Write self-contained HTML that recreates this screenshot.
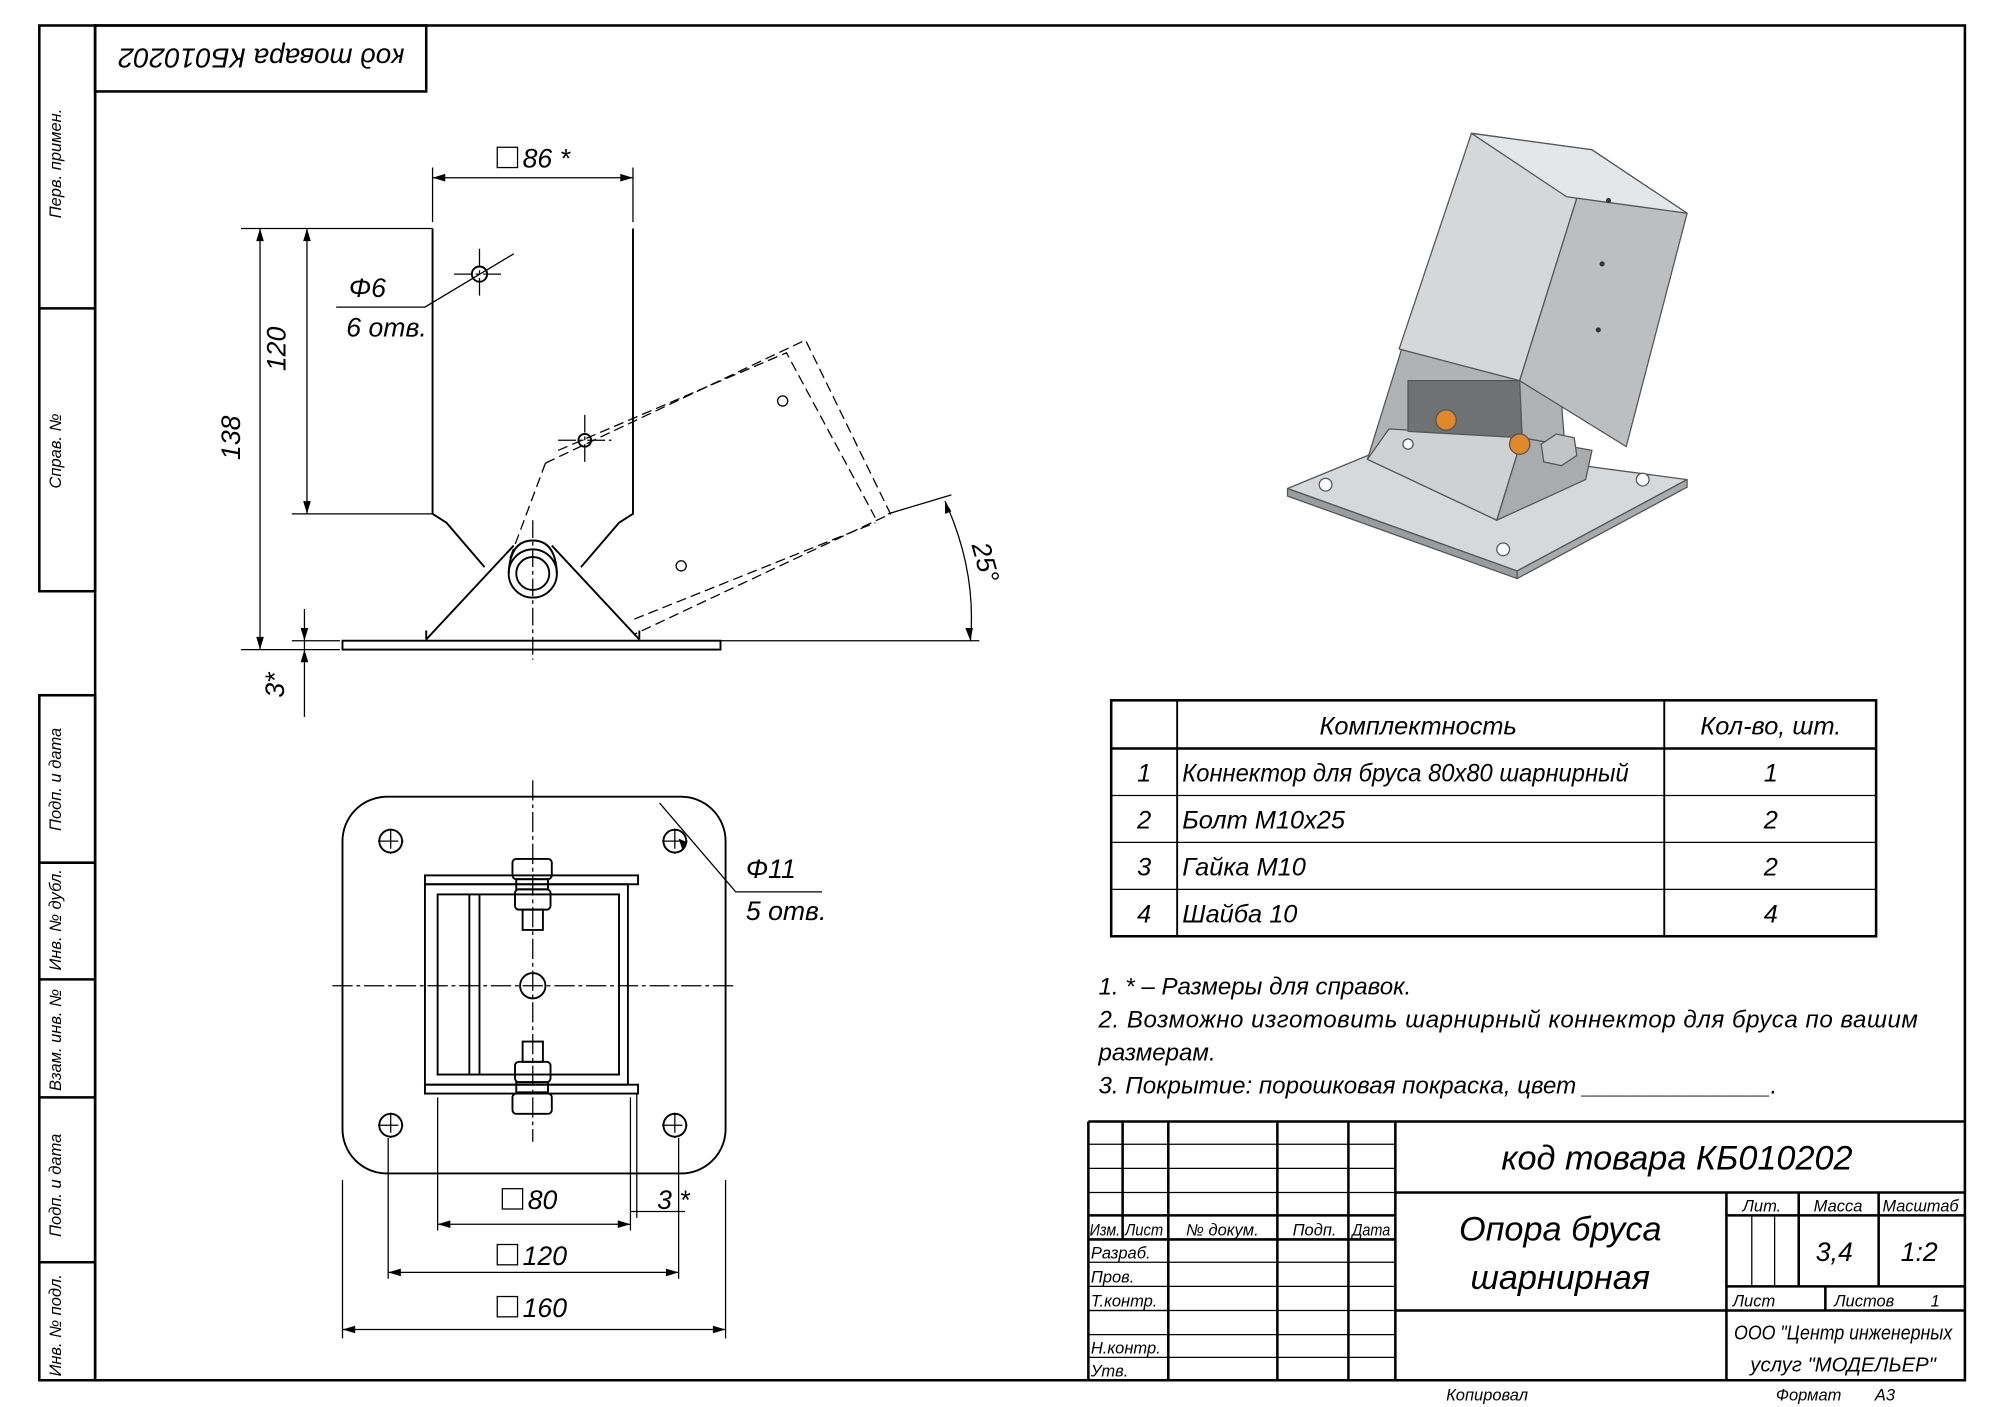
<!DOCTYPE html>
<html><head><meta charset="utf-8"><style>
html,body{margin:0;padding:0;background:#fff}
svg{display:block}
text{font-family:"Liberation Sans","DejaVu Sans",sans-serif;font-style:italic;fill:#000}
</style></head><body>
<svg width="1989" height="1407" viewBox="0 0 1568 1109" xmlns="http://www.w3.org/2000/svg">
<g fill="none" stroke="#000">
<rect x="75" y="20" width="1474" height="1068" stroke-width="2"/>
<rect x="31" y="20" width="44" height="446" stroke-width="2"/>
<line x1="31" y1="243" x2="75" y2="243" stroke-width="2"/>
<rect x="31" y="548" width="44" height="540" stroke-width="2"/>
<line x1="31" y1="680" x2="75" y2="680" stroke-width="2"/>
<line x1="31" y1="772" x2="75" y2="772" stroke-width="2"/>
<line x1="31" y1="865" x2="75" y2="865" stroke-width="2"/>
<line x1="31" y1="995" x2="75" y2="995" stroke-width="2"/>
<rect x="75" y="20" width="261" height="52" stroke-width="2"/>
</g>
<g font-size="13">
<text transform="translate(48,172) rotate(-90)">Перв. примен.</text>
<text transform="translate(48,385) rotate(-90)">Справ. №</text>
<text transform="translate(48,655) rotate(-90)">Подп. и дата</text>
<text transform="translate(48,765) rotate(-90)">Инв. № дубл.</text>
<text transform="translate(48,860) rotate(-90)">Взам. инв. №</text>
<text transform="translate(48,975) rotate(-90)">Подп. и дата</text>
<text transform="translate(48,1085) rotate(-90)">Инв. № подл.</text>
</g>
<text transform="translate(206,46) rotate(180)" font-size="22" text-anchor="middle" dy="8">код товара КБ010202</text>

<g fill="none" stroke="#000" stroke-width="1.5">
<path d="M341,180 V405 L352,412 L382,447"/>
<path d="M499,180 V405 L488,412 L458,447"/>
<path d="M336,504 L405,430 M504,504 L435,430"/>
<path d="M336,504 V497 M504,504 V497"/>
<rect x="270" y="505" width="298" height="7"/>
<circle cx="420" cy="452" r="19"/>
<circle cx="420" cy="452" r="13"/>
<path d="M401,452 Q402,426 420,426 Q438,426 439,452"/>
<circle cx="378" cy="216" r="6"/>
<circle cx="461" cy="347" r="5"/>
</g>
<g fill="none" stroke="#000" stroke-width="1" stroke-dasharray="8,4">
<path d="M430,365 L635,268 L702,405 L500,500"/>
<path d="M430,365 L402,440 M440,355 L620,278 L690,408"/>
<path d="M500,488 L690,412"/>
</g>
<g fill="none" stroke="#000" stroke-width="1">
<circle cx="617" cy="316" r="4"/><circle cx="537" cy="446" r="4"/>
<path d="M420,410 V520 M358,216 H398 M378,196 V236 M440,347 H482 M461,327 V367" stroke-dasharray="14,3,3,3"/>
<path d="M341,175 V132 M499,175 V132 M341,140 H499"/>
<path d="M190,180 H341 M190,512 H268 M205,180 V512"/>
<path d="M230,405 H341 M242,180 V405"/>
<path d="M240,480 V565 M230,505 H268"/>
<path d="M700,405 L750,390 M568,505 H772"/>
<path d="M745,395 Q770,450 765,505"/>
<path d="M265,242 H335 L405,200"/>
</g>
<g fill="#000">
<path d="M341,140 l10,-3 v6z M499,140 l-10,-3 v6z"/>
<path d="M205,180 l-3,10 h6z M205,512 l-3,-10 h6z"/>
<path d="M242,180 l-3,10 h6z M242,405 l-3,-10 h6z"/>
<path d="M240,505 l-3,-10 h6z M240,512 l-3,10 h6z"/>
<path d="M745,395 l0,10 l5,-2z M765,505 l-4,-10 h6z"/>
</g>
<rect x="392" y="116" width="16" height="16" fill="none" stroke="#000"/>
<g font-size="21">
<text x="412" y="132">86 *</text>
<text transform="translate(233,275) rotate(-90)" text-anchor="middle" dy="-8">120</text>
<text transform="translate(197,345) rotate(-90)" text-anchor="middle" dy="-8">138</text>
<text transform="translate(232,540) rotate(-90)" text-anchor="middle" dy="-8">3*</text>
<text transform="translate(770,445) rotate(75)" text-anchor="middle">25°</text>
<text x="275" y="234">Φ6</text>
<text x="273" y="265">6 отв.</text>
</g>

<g fill="none" stroke="#000" stroke-width="1.5">
<rect x="270" y="628" width="302" height="297" rx="35"/>
<circle cx="308" cy="663" r="9"/><circle cx="532" cy="663" r="9"/>
<circle cx="308" cy="887" r="9"/><circle cx="532" cy="887" r="9"/>
<circle cx="420" cy="777" r="10"/>
<rect x="335" y="690" width="168" height="7"/>
<rect x="335" y="855" width="168" height="7"/>
<rect x="335" y="697" width="160" height="158"/>
<rect x="345" y="705" width="143" height="142"/>
<path d="M370,705 V847 M378,705 V847"/>
<rect x="404" y="677" width="31" height="16" rx="3"/>
<rect x="407" y="693" width="25" height="8"/>
<rect x="406" y="701" width="28" height="16" rx="3"/>
<rect x="412" y="717" width="16" height="16"/>
<rect x="404" y="862" width="31" height="16" rx="3"/>
<rect x="407" y="853" width="25" height="8"/>
<rect x="406" y="837" width="28" height="16" rx="3"/>
<rect x="412" y="821" width="16" height="16"/>
</g>
<g fill="none" stroke="#000" stroke-width="1">
<path d="M420,615 V900 M262,777 H580 M298,663 H318 M308,653 V673 M522,663 H542 M532,653 V673 M298,887 H318 M308,877 V897 M522,887 H542 M532,877 V897" stroke-dasharray="16,3,3,3"/>
<path d="M345,865 V970 M497,865 V970 M345,965 H497"/>
<path d="M306,897 V1008 M535,897 V1008 M306,1003 H535"/>
<path d="M270,930 V1055 M572,930 V1055 M270,1048 H572"/>
<path d="M502,862 V960 M497,955 H540"/>
<path d="M520,633 L580,703 H648"/>
</g>
<g fill="#000">
<path d="M345,965 l10,-3 v6z M497,965 l-10,-3 v6z"/>
<path d="M306,1003 l10,-3 v6z M535,1003 l-10,-3 v6z"/>
<path d="M270,1048 l10,-3 v6z M572,1048 l-10,-3 v6z"/>
<path d="M538,670 l-3,-9 l7,3z"/>
</g>
<g font-size="21">
<rect x="396" y="937" width="16" height="16" fill="none" stroke="#000"/><text x="416" y="953">80</text>
<rect x="392" y="981" width="16" height="16" fill="none" stroke="#000"/><text x="412" y="997">120</text>
<rect x="392" y="1022" width="16" height="16" fill="none" stroke="#000"/><text x="412" y="1038">160</text>
<text x="518" y="953">3 *</text>
<text x="588" y="692">Φ11</text>
<text x="588" y="725">5 отв.</text>
</g>

<g stroke="#555" stroke-width="1" stroke-linejoin="round">
<path d="M1015,385 L1105,348 L1330,378 L1196,450 Z" fill="#d6d8da"/>
<path d="M1015,385 L1196,450 L1196,456 L1015,391 Z" fill="#9a9c9e"/>
<path d="M1196,450 L1330,378 L1330,384 L1196,456Z" fill="#a8aaac"/>
<path d="M1078,362 L1105,275 L1230,305 L1236,382 L1180,410 Z" fill="#b0b2b4"/>
<path d="M1078,362 L1095,338 L1200,345 L1180,410Z" fill="#cfd1d3"/>
<path d="M1180,410 L1200,345 L1255,355 L1250,378 Z" fill="#a9abad"/>
<path d="M1103,275 L1160,105 L1255,118 L1198,300 Z" fill="#d5d7d9"/>
<path d="M1255,118 L1330,168 L1282,352 L1198,300 Z" fill="#bcbec0"/>
<path d="M1160,105 L1255,118 L1330,168 L1235,155Z" fill="#e5e6e7"/>
<path d="M1110,300 L1198,300 L1200,345 L1110,340Z" fill="#6f7173"/>
<circle cx="1140" cy="331" r="8" fill="#e0892a"/><circle cx="1198" cy="350" r="8" fill="#e0892a"/>
<path d="M1215,350 l12,-8 l14,3 l2,14 l-12,8 l-14,-3z" fill="#c2c4c6"/>
<circle cx="1045" cy="382" r="5" fill="#fff"/><circle cx="1295" cy="378" r="5" fill="#fff"/>
<circle cx="1185" cy="433" r="5" fill="#fff"/><circle cx="1110" cy="350" r="4" fill="#fff"/>
</g>
<g fill="#333"><circle cx="1268" cy="158" r="2"/><circle cx="1263" cy="208" r="2"/><circle cx="1260" cy="260" r="2"/></g>

<g fill="none" stroke="#000">
<rect x="876" y="552" width="603" height="186" stroke-width="2"/>
<path d="M876,590 H1479" stroke-width="2"/>
<path d="M876,627 H1479 M876,664 H1479 M876,701 H1479" stroke-width="1"/>
<path d="M928,552 V738 M1312,552 V738" stroke-width="1.5"/>
</g>
<g font-size="20">
<text x="1118" y="579" text-anchor="middle">Комплектность</text>
<text x="1396" y="579" text-anchor="middle">Кол-во, шт.</text>
<text x="902" y="616" text-anchor="middle">1</text><text x="932" y="616" textLength="352" lengthAdjust="spacingAndGlyphs">Коннектор для бруса 80х80 шарнирный</text><text x="1396" y="616" text-anchor="middle">1</text>
<text x="902" y="653" text-anchor="middle">2</text><text x="932" y="653">Болт М10х25</text><text x="1396" y="653" text-anchor="middle">2</text>
<text x="902" y="690" text-anchor="middle">3</text><text x="932" y="690">Гайка М10</text><text x="1396" y="690" text-anchor="middle">2</text>
<text x="902" y="727" text-anchor="middle">4</text><text x="932" y="727">Шайба 10</text><text x="1396" y="727" text-anchor="middle">4</text>
</g>
<g font-size="19">
<text x="866" y="784">1. * – Размеры для справок.</text>
<text x="866" y="810" textLength="646" lengthAdjust="spacing">2. Возможно изготовить шарнирный коннектор для бруса по вашим</text>
<text x="866" y="836">размерам.</text>
<text x="866" y="862">3. Покрытие: порошковая покраска, цвет ______________.</text>
</g>

<g fill="none" stroke="#000" stroke-width="1">
<path d="M858,884 H1549 M858,884 V1088" stroke-width="2"/>
<path d="M858,902 H1100 M858,921 H1100 M858,940 H1100 M858,1052 H1100 M858,1070 H1100 M921,995 H1100 M921,1014 H1100 M858,1033 H1100"/>
<path d="M858,958 H1100 M858,977 H1100" stroke-width="2"/>
<path d="M885,884 V977 M921,884 V1088 M1007,884 V1088 M1063,884 V1088" stroke-width="2"/>
<path d="M858,995 H921 M858,1014 H921 M858,1033 H921"/>
<path d="M1100,884 V1088" stroke-width="2"/>
<path d="M1100,940 H1549 M1100,1033 H1549 M1361,940 V1088 M1361,958 H1549 M1361,1014 H1549" stroke-width="2"/>
<path d="M1418,940 V1014 M1481,940 V1014 M1439,1014 V1033" stroke-width="2"/>
<path d="M1381,958 V1014 M1399,958 V1014"/>
</g>
<g font-size="13">
<text x="859" y="974" textLength="24" lengthAdjust="spacingAndGlyphs">Изм.</text><text x="887" y="974" textLength="30" lengthAdjust="spacingAndGlyphs">Лист</text><text x="935" y="974">№ докум.</text><text x="1019" y="974">Подп.</text><text x="1066" y="974" textLength="30" lengthAdjust="spacingAndGlyphs">Дата</text>
<text x="860" y="992">Разраб.</text><text x="860" y="1011">Пров.</text><text x="860" y="1030">Т.контр.</text>
<text x="860" y="1067">Н.контр.</text><text x="860" y="1085">Утв.</text>
<text x="1389" y="955" text-anchor="middle">Лит.</text><text x="1449" y="955" text-anchor="middle">Масса</text><text x="1514" y="955" text-anchor="middle" textLength="60" lengthAdjust="spacingAndGlyphs">Масштаб</text>
<text x="1366" y="1030">Лист</text><text x="1446" y="1030">Листов</text><text x="1522" y="1030">1</text>
<text x="1140" y="1104">Копировал</text><text x="1400" y="1104">Формат</text><text x="1478" y="1104">А3</text>
</g>
<text x="1322" y="922" font-size="27" text-anchor="middle">код товара КБ010202</text>
<text x="1230" y="978" font-size="27" text-anchor="middle">Опора бруса</text>
<text x="1230" y="1016" font-size="27" text-anchor="middle">шарнирная</text>
<text x="1446" y="994" font-size="21" text-anchor="middle">3,4</text>
<text x="1513" y="994" font-size="21" text-anchor="middle">1:2</text>
<text x="1453" y="1056" font-size="16" text-anchor="middle" textLength="172" lengthAdjust="spacingAndGlyphs">ООО "Центр инженерных</text>
<text x="1453" y="1081" font-size="16" text-anchor="middle">услуг "МОДЕЛЬЕР"</text>
</svg>
</body></html>
